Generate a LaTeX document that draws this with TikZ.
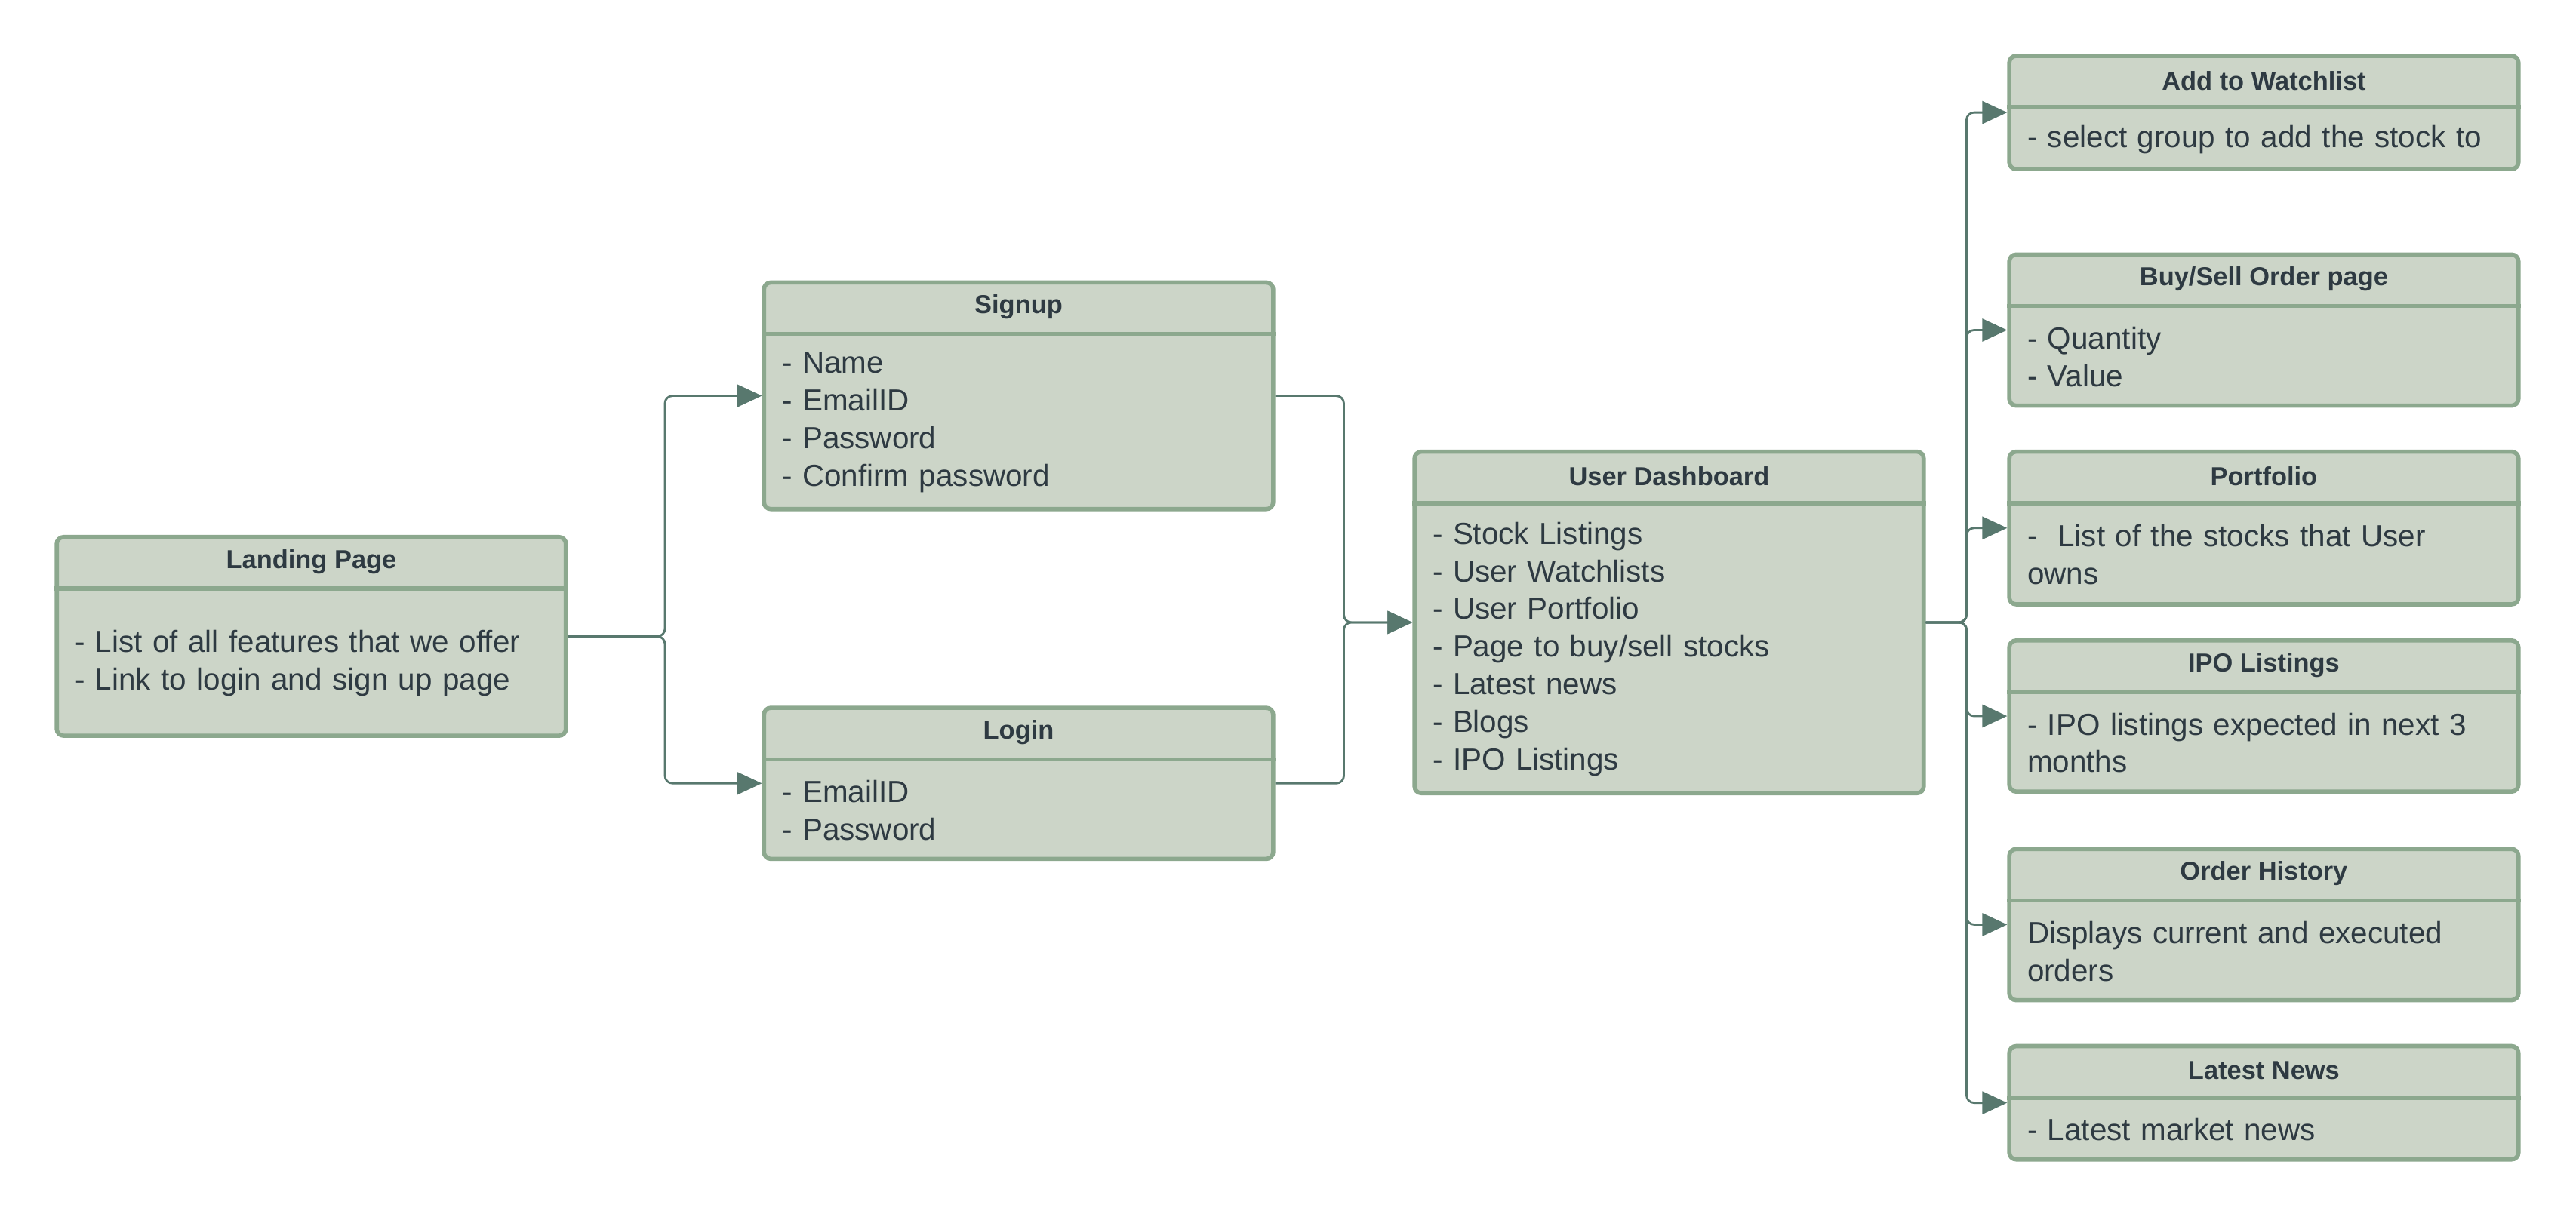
\documentclass[tikz,border=0pt]{standalone}
\usepackage{fontspec}
\setmainfont{Liberation Sans}
\usepackage{tikz}
\usetikzlibrary{arrows.meta, positioning, calc}
\usepackage{xcolor}
\definecolor{boxfill}{RGB}{204,213,200}
\definecolor{boxedge}{RGB}{140,168,142}
\definecolor{linkgreen}{RGB}{88,120,110}
\definecolor{inkdark}{RGB}{46,58,66}
\tikzset{
  pagebox/.style={
    rectangle, rounded corners=0.09cm, draw=boxedge, fill=boxfill,
    line width=1.6pt, minimum width=6.748cm, inner sep=0pt
  },
  pagerule/.style={draw=boxedge, line width=1.6pt},
  pagetitle/.style={font=\fontsize{9.8}{11}\selectfont\bfseries, text=inkdark, inner sep=0pt},
  pageitems/.style={
    font=\fontsize{11.5}{14.2}\selectfont, text=inkdark, align=left,
    text width=6.27cm, inner xsep=0.24cm, inner ysep=0pt
  },
  link/.style={
    -{Triangle[length=0.33cm, width=0.3cm]}, draw=linkgreen, line width=0.8pt,
    rounded corners=0.1cm
  }
}
\def\headh{0.71cm}
% one screen: name, centre, height, title, items
\newcommand{\screenbox}[5]{%
  \node[pagebox, minimum height=#3] (#1) at (#2) {};
  \draw[pagerule] ([yshift=-\headh]#1.north west) -- ([yshift=-\headh]#1.north east);
  \node[pagetitle] (#1-title) at ([yshift=-0.355cm]#1.north) {#4};
  \node[pageitems] (#1-items) at ($([yshift=-\headh]#1.north)!0.5!(#1.south)$) {#5};
}

\begin{document}
\begin{tikzpicture}[x=0.021767cm, y=-0.021767cm]
  \useasboundingbox (0,0) rectangle (1568,741);

  \screenbox{land}{189.5,387.5}{2.634cm}{Landing Page}
    {- List of all features that we offer\\- Link to login and sign up page}
  \screenbox{sign}{620,241}{3.004cm}{Signup}
    {- Name\\- EmailID\\- Password\\- Confirm password}
  \screenbox{login}{620,477}{2.003cm}{Login}
    {- EmailID\\- Password}
  \screenbox{dash}{1016,379}{4.528cm}{User Dashboard}
    {- Stock Listings\\- User Watchlists\\- User Portfolio\\- Page to buy/sell stocks\\- Latest news\\- Blogs\\- IPO Listings}

  % right column
  \screenbox{watch}{1378,68.5}{1.502cm}{Add to Watchlist}
    {- select group to add the stock to}
  \screenbox{order}{1378,201}{2.003cm}{Buy/Sell Order page}
    {- Quantity\\- Value}
  \screenbox{port}{1378,321.5}{2.024cm}{Portfolio}
    {-~ List of the stocks that User\\owns}
  \screenbox{ipo}{1378,436}{2.003cm}{IPO Listings}
    {- IPO listings expected in next 3\\months}
  \screenbox{hist}{1378,563}{2.003cm}{Order History}
    {Displays current and executed\\orders}
  \screenbox{news}{1378,671.5}{1.502cm}{Latest News}
    {- Latest market news}

  \coordinate (j1) at ($(land.east)!0.5!(sign.west)$);
  \coordinate (j2) at ($(sign.east)!0.5!(dash.west)$);
  \coordinate (j3) at ($(dash.east)!0.5!(watch.west |- dash.east)$);

  \draw[link] (land.east) -- (land.east -| j1) |- (sign.west);
  \draw[link] (land.east) -- (land.east -| j1) |- (login.west);
  \draw[link] (sign.east) -- (sign.east -| j2) |- (dash.west);
  \draw[link] (login.east) -- (login.east -| j2) |- (dash.west);
  \foreach \b in {watch,order,port,ipo,hist,news}
    \draw[link] (dash.east) -- (dash.east -| j3) |- (\b.west);
\end{tikzpicture}
\end{document}
